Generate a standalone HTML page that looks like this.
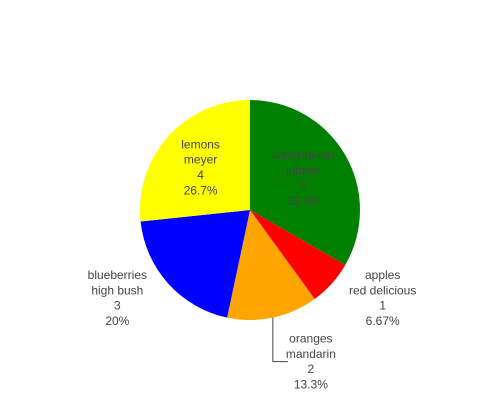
<!DOCTYPE html>
<html><head><meta charset="utf-8"><style>
html,body{margin:0;padding:0;background:#fff;}
svg{display:block;font-family:"Liberation Sans",sans-serif;}
</style></head><body>
<svg id="chart" width="500" height="400"></svg>
<script>
const labels = ["watermelon","apples","oranges","blueberries","lemons"];
const varieties = ["jubilee","red delicious","mandarin","high bush","meyer"];
const values = [5,1,2,3,4];
const colors = ["#008000","#ff0000","#ffa500","#0000ff","#ffff00"];
const percentText = ["33.3%","6.67%","13.3%","20%","26.7%"];
const percentTextColor = "#444";

const NS="http://www.w3.org/2000/svg";
const svg=document.getElementById('chart');
const cx=250, cy=210, R=110;
const total=values.reduce((a,b)=>a+b,0);
function pt(a,r){return [cx+r*Math.sin(a), cy-r*Math.cos(a)];}
function mk(tag,attrs){const e=document.createElementNS(NS,tag);for(const k in attrs)e.setAttribute(k,attrs[k]);svg.appendChild(e);return e;}
function block(x,yc,lines,name){
  const lh=15.3, y0=yc-(lines.length-1)*lh/2;
  const t=mk('text',{x:x,'text-anchor':'middle','font-size':12,fill:percentTextColor});
  
  
  lines.forEach((s,i)=>{const ts=document.createElementNS(NS,'tspan');ts.setAttribute('x',x);ts.setAttribute('y',y0+i*lh+4);ts.textContent=s;t.appendChild(ts);});
}
let acc=0;
values.forEach((v,i)=>{
  const a0=acc/total*2*Math.PI; acc+=v; const a1=acc/total*2*Math.PI;
  const [x0,y0]=pt(a0,R),[x1,y1]=pt(a1,R);
  const large=(a1-a0)>Math.PI?1:0;
  const p=mk('path',{d:`M${cx},${cy}L${x0},${y0}A${R},${R} 0 ${large} 1 ${x1},${y1}Z`,fill:colors[i],stroke:'#fff','stroke-width':0});
  
  
  const mid=(a0+a1)/2, frac=v/total;
  const lines=[labels[i],varieties[i],String(v),percentText[i]];
  if(frac>=0.25){
    const [lx,ly]=pt(mid,R*0.58);
    block(lx-2,ly,lines,'label-'+labels[i]);
  } else {
    const dx=Math.sin(mid);
    if(Math.abs(dx)<0.4){
      const [ax,ay]=pt(mid,R);
      const ly=ay+44;
      const l=mk('path',{d:`M${ax},${ay}V${ly}H${ax+15}`,fill:'none',stroke:'#444','stroke-width':1});
      
      
      block(ax+38,ly,lines,'label-'+labels[i]);
    } else {
      const [ax,ay]=pt(mid,R+12);
      const side=dx>0?1:-1;
      const lyc=Math.max(ay+4, cy+88);
      block(ax+side*42,lyc,lines,'label-'+labels[i]);
    }
  }
});
</script>
</body></html>
